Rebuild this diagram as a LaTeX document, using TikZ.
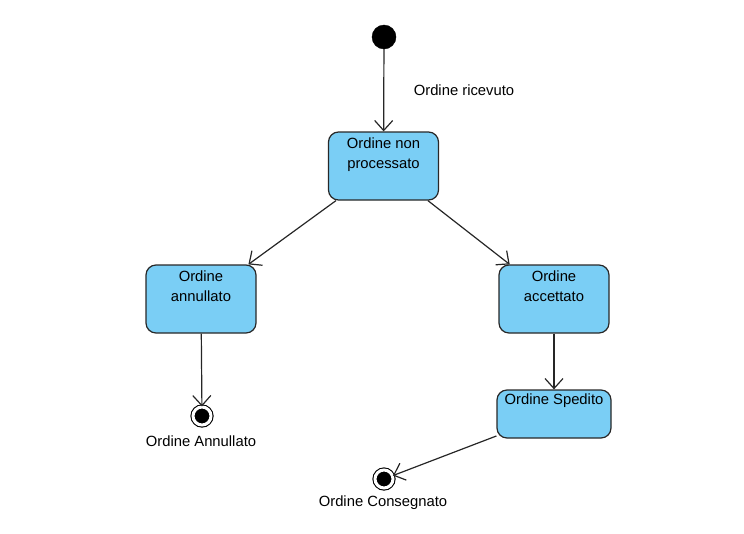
\documentclass[tikz,border=0pt]{standalone}
\usepackage{fontspec}
\setmainfont{Liberation Sans}
\usepackage{tikz}
\usetikzlibrary{arrows.meta,positioning,calc}
\definecolor{statefill}{RGB}{122,206,245}
\definecolor{stateline}{RGB}{40,40,40}
\tikzstyle{state}=[draw=stateline,fill=statefill,rounded corners=10pt,line width=1.2pt,minimum width=110pt,minimum height=68pt,inner sep=0pt]
\tikzstyle{statetext}=[anchor=north,align=center,inner sep=0pt,font=\fontsize{14.8}{20}\selectfont]
\tikzstyle{initial}=[draw,fill=black,circle,minimum size=24pt,inner sep=0pt]
\tikzstyle{final}=[draw,fill=black,circle,minimum size=18pt,inner sep=0pt,double=white,double distance=3pt,line width=1.1pt]
\tikzstyle{trans}=[-{Straight Barb[length=10pt,width=18pt]},line width=1.2pt,black!85]

\begin{document}
\begin{tikzpicture}[x=1pt,y=-1pt,font=\fontsize{14.8}{20}\selectfont]
\useasboundingbox (0,0) rectangle (744,533);
\node [initial] (start) at (384,37) {};
\node [state] (nonproc) at (383.5,166) {};
\node [statetext] (nonproctxt) at ($(nonproc.north)+(0,6)$) {Ordine non\\processato};
\node [state] (annul) at (201,299) {};
\node [statetext] (annultxt) at ($(annul.north)+(0,6)$) {Ordine\\annullato};
\node [state] (accett) at (554,299) {};
\node [statetext] (accetttxt) at ($(accett.north)+(0,6)$) {Ordine\\accettato};
\node [state,minimum width=114pt,minimum height=48pt] (sped) at (554,414) {};
\node [statetext] (spedtxt) at ($(sped.north)+(0,4)$) {Ordine Spedito};
\node [final] (endannul) at (202,416) {};
\node [final] (endcons) at (384,479) {};
\node (lblannul) at (201,441) {Ordine Annullato};
\node (lblcons) at (383,503) {Ordine Consegnato};
\node (lblric) at (464,90) {Ordine ricevuto};

\draw [trans] (start) -- (nonproc);
\draw [trans] (nonproc) -- (annul);
\draw [trans] (nonproc) -- (accett);
\draw [trans] (annul) -- (endannul);
\draw [trans] (accett) -- (sped);
\draw [trans] (sped) -- (endcons);
\end{tikzpicture}
\end{document}
